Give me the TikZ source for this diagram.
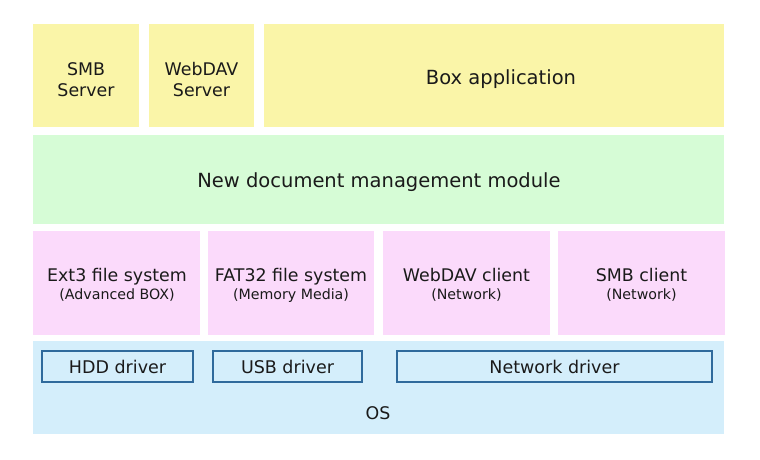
\documentclass[tikz,border=0pt]{standalone}
\usepackage{fontspec}
\setmainfont{DejaVu Sans}
\definecolor{cyel}{HTML}{FAF5A8}
\definecolor{cgrn}{HTML}{D6FCD6}
\definecolor{cpnk}{HTML}{FBDAFB}
\definecolor{cblu}{HTML}{D4EEFB}
\definecolor{cdrv}{HTML}{2F6A9C}
\definecolor{ctxt}{HTML}{1A1A1A}
\tikzset{
  blk/.style={draw=none, inner sep=0pt, text=ctxt, align=center},
  mainlbl/.style={blk, anchor=base, font=\fontsize{17.4}{20}\selectfont},
  sublbl/.style={blk, anchor=base, font=\fontsize{14.2}{16}\selectfont},
  biglbl/.style={blk, anchor=base, font=\fontsize{19.5}{22}\selectfont},
  drv/.style={draw=cdrv, line width=1.3pt, fill=cblu, inner sep=0pt, text=ctxt,
     font=\fontsize{17.5}{20}\selectfont, minimum height=31pt},
}
\begin{document}
\begin{tikzpicture}
\path[fill=white,use as bounding box] (0,0) rectangle (760pt,-459pt);
% top row
\path[fill=cyel] (33pt,-24pt) rectangle (139pt,-127pt);
\node[mainlbl] (smbs) at (86pt,-75pt) {SMB};
\node[mainlbl] (smbs2) at (86pt,-96pt) {Server};
\path[fill=cyel] (149pt,-24pt) rectangle (254pt,-127pt);
\node[mainlbl] (webs) at (201.5pt,-75pt) {WebDAV};
\node[mainlbl] (webs2) at (201.5pt,-96pt) {Server};
\path[fill=cyel] (264pt,-24pt) rectangle (724pt,-127pt);
\node[biglbl] (boxapp) at (501pt,-84pt) {Box application};
% middle
\path[fill=cgrn] (33pt,-135pt) rectangle (724pt,-224pt);
\node[biglbl] (ndm) at (379pt,-187pt) {New document management module};
% pink row
\path[fill=cpnk] (33pt,-231pt) rectangle (200pt,-335pt);
\path[fill=cpnk] (208pt,-231pt) rectangle (374pt,-335pt);
\path[fill=cpnk] (383pt,-231pt) rectangle (550pt,-335pt);
\path[fill=cpnk] (558pt,-231pt) rectangle (725pt,-335pt);
\node[mainlbl] (ext3) at (117pt,-281pt) {Ext3 file system};
\node[sublbl] (ext3s) at (117pt,-299pt) {(Advanced BOX)};
\node[mainlbl] (fat32) at (291pt,-281pt) {FAT32 file system};
\node[sublbl] (fat32s) at (291pt,-299pt) {(Memory Media)};
\node[mainlbl] (webc) at (466.5pt,-281pt) {WebDAV client};
\node[sublbl] (webcs) at (466.5pt,-299pt) {(Network)};
\node[mainlbl] (smbc) at (641.5pt,-281pt) {SMB client};
\node[sublbl] (smbcs) at (641.5pt,-299pt) {(Network)};
% OS
\path[fill=cblu] (33pt,-341pt) rectangle (724pt,-434pt);
\node[mainlbl] (os) at (378pt,-419pt) {OS};
\node[drv, minimum width=151pt] (hdd) at (117.5pt,-366.5pt) {HDD driver};
\node[drv, minimum width=149pt] (usb) at (287.5pt,-366.5pt) {USB driver};
\node[drv, minimum width=315pt] (net) at (554.5pt,-366.5pt) {Network driver};
\end{tikzpicture}
\end{document}
